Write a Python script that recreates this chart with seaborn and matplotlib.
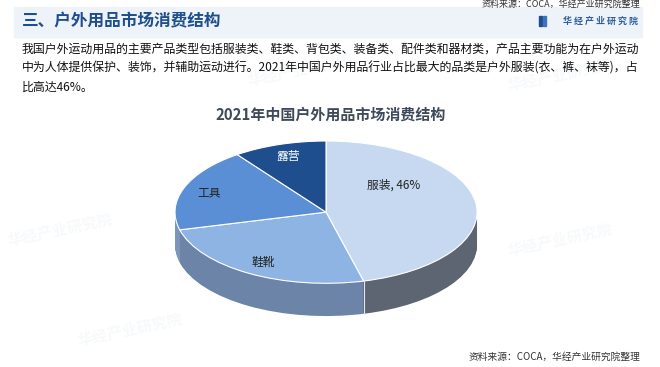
import numpy as np
import matplotlib
matplotlib.use('Agg')
import matplotlib.pyplot as plt
from matplotlib.patches import Rectangle
import seaborn as sns

# data
categories = ['服装', '鞋靴', '工具', '露营']
shares = [46, 25, 19, 10]
top_colors = ['#c6d9f0', '#8db4e2', '#5b8fd5', '#1f4e8f']
side_colors = ['#5c6571', '#6c84a8', '#7c96bb', '#2a4a78']
label_colors = ['#222222', '#222222', '#222222', '#ffffff']

page_title = '三、户外用品市场消费结构'
intro_lines = [
    '我国户外运动用品的主要产品类型包括服装类、鞋类、背包类、装备类、配件类和器材类，产品主要功能为在户外运动',
    '中为人体提供保护、装饰，并辅助运动进行。2021年中国户外用品行业占比最大的品类是户外服装(衣、裤、袜等)，占',
    '比高达46%。',
]
chart_title = '2021年中国户外用品市场消费结构'
source_text = '资料来源：COCA，华经产业研究院整理'
brand = '华 经 产 业 研 究 院'

sns.set_theme(style='white')
plt.rcParams['font.family'] = ['Noto Sans CJK SC', 'DejaVu Sans']

W, H = 660, 367
fig = plt.figure(figsize=(6.6, 3.67), dpi=100)
fig.patch.set_facecolor('white')


def fx(px):
    return px / W


def fy(py):
    return 1 - py / H


# faint watermarks
for (wx, wy) in [(60, 230), (560, 75), (130, 330), (560, 240), (300, 70)]:
    fig.text(fx(wx), fy(wy), '华经产业研究院', fontsize=11, color='#c9d6e6',
             alpha=0.15, rotation=12, ha='center', va='center', fontweight='bold')

# header band
fig.add_artist(Rectangle((fx(14), fy(37)), fx(642) - fx(14), 30 / H,
                         transform=fig.transFigure, color='#eef3fa', zorder=0))
fig.text(fx(22), fy(21), page_title, fontsize=12, fontweight='bold',
         color='#1f4e8c', va='center')
fig.add_artist(Rectangle((fx(539), fy(26)), 3 / W, 10 / H,
                         transform=fig.transFigure, color='#1f4e8c'))
fig.add_artist(Rectangle((fx(543), fy(26)), 3 / W, 10 / H,
                         transform=fig.transFigure, color='#3f73b8'))
fig.text(fx(638), fy(21), brand, fontsize=6.5, fontweight='bold',
         color='#2f5e9e', ha='right', va='center')

# top source line
fig.text(fx(640), fy(4), source_text, fontsize=6.5, color='#333333',
         ha='right', va='center')

# intro paragraph
for i, line in enumerate(intro_lines):
    fig.text(fx(22), fy(49 + i * 19), line, fontsize=8.6, color='#111111',
             va='center')

fig.text(fx(331), fy(115), chart_title, fontsize=10.8, fontweight='bold',
         color='#3e4a5a', ha='center', va='center')

fig.text(fx(640), fy(357), source_text, fontsize=7, color='#333333',
         ha='right', va='center')

# pseudo 3D pie
ax = fig.add_axes([fx(175), fy(326), fx(477) - fx(175), 185 / H])
depth = 0.46
n_layers = 40
for d in np.linspace(depth, 0.0, n_layers, endpoint=False):
    ax.pie(shares, colors=side_colors, radius=1, center=(0, -d),
           startangle=90, counterclock=False,
           wedgeprops=dict(linewidth=0, antialiased=True))

wedges, texts = ax.pie(shares, labels=categories, colors=top_colors, radius=1,
                       center=(0, 0), startangle=90, counterclock=False,
                       labeldistance=0.82,
                       wedgeprops=dict(linewidth=0.8, edgecolor='white'),
                       textprops=dict(fontsize=8.5, ha='center', va='center'))
for t, c in zip(texts, label_colors):
    t.set_color(c)
    t.set_ha('center')
texts[0].set_text(f'{categories[0]}, {shares[0]}%')
texts[0].set_position((0.45, 0.38))

# side seam at the front boundary between the first two slices
theta = np.deg2rad(90 - 360 * shares[0] / sum(shares))
ax.plot([np.cos(theta)] * 2, [np.sin(theta), np.sin(theta) - depth],
        color='#dfe6f0', lw=0.8)

ax.set_aspect('auto')
ax.set_xlim(-1, 1)
ax.set_ylim(-1.6, 1)
ax.axis('off')

fig.savefig('out.png', dpi=100)
